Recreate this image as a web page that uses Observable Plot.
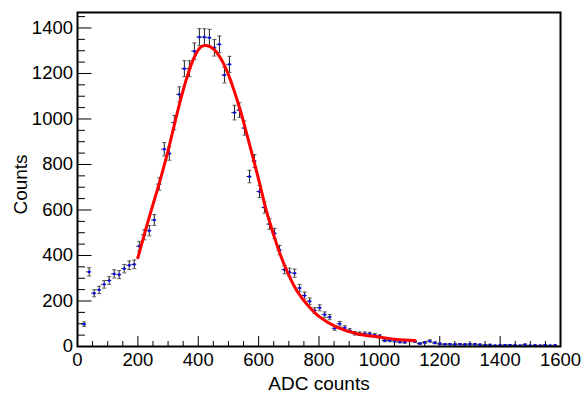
<!DOCTYPE html>
<html><head><meta charset="utf-8">
<script src="https://cdn.jsdelivr.net/npm/d3@7"></script>
<script src="https://cdn.jsdelivr.net/npm/@observablehq/plot@0.6"></script>
<style>body{margin:0;background:#fff}</style>
</head><body><div id="chart"></div>
<script>
// Histogram bins (ADC counts)
const binStart = 22;
const binWidth = 16.6;
const counts = [
  98, 328, 234, 249, 273, 290, 319, 316, 342, 357,
  361, 441, 491, 509, 556, 714, 867, 848, 984, 1108,
  1221, 1221, 1298, 1360, 1360, 1357, 1313, 1328, 1193, 1240,
  1028, 1039, 960, 747, 815, 681, 611, 538, 497, 424,
  338, 326, 322, 257, 224, 199, 158, 170, 140, 129,
  80, 100, 82, 70, 58, 56, 56, 55, 50, 45,
  26, 26, 24, 20, 19, 26, 22, 13, 18, 24,
  16, 12, 10, 10, 9, 10, 9, 10, 10, 8,
  6, 7, 4, 5, 6, 6, 5, 4, 8, 4,
  5, 4, 6, 4, 5
];
// Fit curve samples
const fitX = [200, 231, 250, 270, 298, 320, 342, 364, 386, 408, 427, 452, 474, 496, 518, 540, 562, 585, 605, 625, 649, 671, 698, 726, 759, 803, 859, 925, 1002, 1058, 1118];
const fitY = [390, 538, 624, 714, 850, 970, 1087, 1189, 1269, 1316, 1323, 1306, 1267, 1208, 1128, 1035, 928, 812, 708, 600, 494, 407, 319, 246, 187, 129, 85, 56, 41, 31, 26];
// Axis ticks
const xMajor = [0, 200, 400, 600, 800, 1000, 1200, 1400, 1600];
const yMajor = [0, 200, 400, 600, 800, 1000, 1200, 1400];
const xMinor = d3.range(0, 1601, 50).filter(v => v % 200 !== 0);
const yMinor = d3.range(0, 1468, 50).filter(v => v % 200 !== 0);

const bins = counts.map((n, i) => ({x: binStart + i * binWidth, n, e: Math.sqrt(n)}));
const fit = fitX.map((x, i) => ({x, y: fitY[i]}));
const cap = {draw(ctx) { ctx.moveTo(-2, 0); ctx.lineTo(2, 0); }};

const chart = Plot.plot({
  width: 583, height: 397,
  marginLeft: 77, marginRight: 23, marginTop: 12, marginBottom: 51,
  style: {fontFamily: "'Liberation Sans', Arial, Helvetica, sans-serif", fontSize: "18.5px", background: "#fff", overflow: "visible"},
  x: {domain: [0, 1600], label: null},
  y: {domain: [0, 1468], label: null},
  marks: [
    Plot.ruleX(xMinor, {stroke: "#000", insetTop: 329}),
    Plot.ruleX(xMajor, {stroke: "#000", insetTop: 324}),
    Plot.ruleY(yMinor, {stroke: "#000", insetRight: 475}),
    Plot.ruleY(yMajor, {stroke: "#000", insetRight: 468.5}),
    Plot.ruleY(bins, {y: "n", x1: d => d.x - binWidth / 2, x2: d => d.x + binWidth / 2, stroke: "#1c1c5a", strokeWidth: 1}),
    Plot.ruleX(bins, {x: "x", y1: d => d.n - d.e, y2: d => d.n + d.e, stroke: "#222", strokeWidth: 1}),
    Plot.dot(bins, {x: "x", y: d => d.n - d.e, symbol: cap, fill: "none", stroke: "#555", strokeWidth: 1}),
    Plot.dot(bins, {x: "x", y: d => d.n + d.e, symbol: cap, fill: "none", stroke: "#555", strokeWidth: 1}),
    Plot.dot(bins, {x: "x", y: "n", symbol: "square", fill: "#0000ff", stroke: "none", r: 1.3}),
    Plot.line(fit, {x: "x", y: "y", stroke: "#ff0000", strokeWidth: 3, curve: "catmull-rom"}),
    Plot.axisX({ticks: xMajor, tickSize: 0, tickPadding: 6, tickFormat: d => String(d), fontSize: 18.5, label: null}),
    Plot.axisY({ticks: yMajor, tickSize: 0, tickPadding: 4.5, tickFormat: d => String(d), fontSize: 18.5, label: null}),
    Plot.text(["ADC counts"], {frameAnchor: "bottom", dy: 43, fontSize: 19}),
    Plot.text(["Counts"], {frameAnchor: "left", textAnchor: "middle", dx: -57, dy: 5, rotate: -90, fontSize: 19}),
    Plot.frame({stroke: "#000", strokeWidth: 2})
  ]
});
document.getElementById("chart").append(chart);
</script>
</body></html>
